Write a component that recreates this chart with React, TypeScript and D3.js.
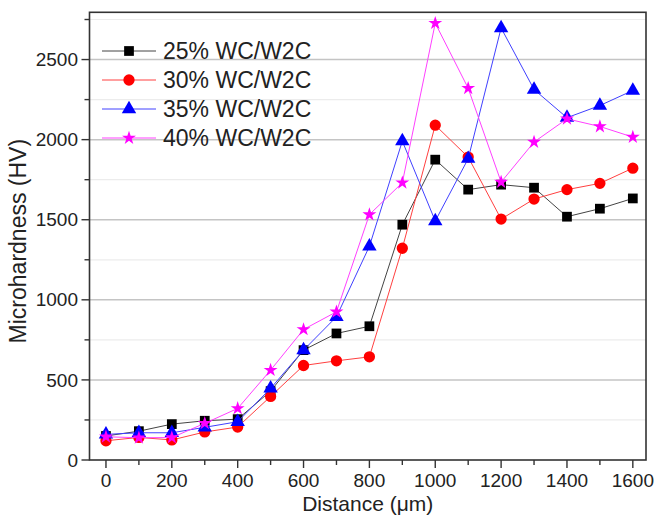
import * as d3 from 'd3'

const distances = [0, 100, 200, 300, 400, 500, 600, 700, 800, 900, 1000, 1100, 1200, 1300, 1400, 1500, 1600]
const wc25 = [150, 180, 224, 245, 255, 430, 686, 790, 835, 1469, 1875, 1688, 1719, 1700, 1519, 1569, 1633]
const wc30 = [120, 141, 125, 175, 206, 397, 590, 619, 644, 1322, 2090, 1891, 1504, 1629, 1688, 1727, 1822]
const wc35 = [160, 170, 170, 204, 239, 447, 686, 894, 1334, 1991, 1492, 1881, 2697, 2313, 2137, 2213, 2307]
const wc40 = [145, 139, 140, 229, 322, 561, 815, 925, 1532, 1731, 2727, 2321, 1735, 1985, 2130, 2082, 2016]
const seriesNames = ['25% WC/W2C', '30% WC/W2C', '35% WC/W2C', '40% WC/W2C']
const xTicks = [0, 200, 400, 600, 800, 1000, 1200, 1400, 1600]
const yTicks = [0, 500, 1000, 1500, 2000, 2500]

const W = 654
const H = 516
const left = 89.5
const right = 646
const top = 12.3
const bottom = 460

const series = [
  { name: seriesNames[0], values: wc25, color: '#000000', line: '#444444', symbol: d3.symbolSquare, size: 95 },
  { name: seriesNames[1], values: wc30, color: '#ff0000', line: '#ff4040', symbol: d3.symbolCircle, size: 100 },
  { name: seriesNames[2], values: wc35, color: '#0000ff', line: '#4040ff', symbol: d3.symbolTriangle, size: 90 },
  { name: seriesNames[3], values: wc40, color: '#ff00ff', line: '#ff40ff', symbol: d3.symbolStar, size: 60 },
]

export default function App() {
  const x = d3.scaleLinear().domain([-50, 1640]).range([left, right])
  const y = d3.scaleLinear().domain([0, 2795]).range([bottom, top])
  const line = d3.line<number>().x((_, i) => x(distances[i])).y(v => y(v))

  const xMinor = d3.range(100, 1700, 200)
  const yMinor = d3.range(250, 2800, 500)
  const font = '"Liberation Sans", Arial, sans-serif'

  return (
    <svg width={W} height={H} style={{ position: 'absolute', left: 0, top: 0, background: '#fff' }} fontFamily={font}>
      {/* grid */}
      {yMinor.map(t => (
        <line key={'gm' + t} x1={left} x2={right} y1={y(t)} y2={y(t)} stroke="#ececec" strokeWidth={1.2} />
      ))}
      {yTicks.slice(1).map(t => (
        <line key={'g' + t} x1={left} x2={right} y1={y(t)} y2={y(t)} stroke="#c4c4c4" strokeWidth={1.5} />
      ))}

      {/* series */}
      {series.map(s => (
        <g key={s.name}>
          <path d={line(s.values) ?? ''} fill="none" stroke={s.line} strokeWidth={1} />
          {s.values.map((v, i) => (
            <path key={i} transform={`translate(${x(distances[i])},${y(v)})`}
              d={d3.symbol(s.symbol, s.size)() ?? ''} fill={s.color} />
          ))}
        </g>
      ))}

      {/* frame */}
      <rect x={left} y={top} width={right - left} height={bottom - top} fill="none" stroke="#333" strokeWidth={1.6} />

      {/* x axis */}
      {xTicks.map(t => (
        <g key={'x' + t}>
          <line x1={x(t)} x2={x(t)} y1={bottom} y2={bottom + 8} stroke="#333" strokeWidth={1.4} />
          <text x={x(t)} y={487} textAnchor="middle" fontSize={19} fill="#222">{t}</text>
        </g>
      ))}
      {xMinor.map(t => (
        <line key={'xm' + t} x1={x(t)} x2={x(t)} y1={bottom} y2={bottom + 5} stroke="#333" strokeWidth={1.4} />
      ))}
      <text x={(left + right) / 2} y={511} textAnchor="middle" fontSize={21} fill="#222">Distance (μm)</text>

      {/* y axis */}
      {yTicks.map(t => (
        <g key={'y' + t}>
          <line x1={left - 8} x2={left} y1={y(t)} y2={y(t)} stroke="#333" strokeWidth={1.4} />
          <text x={78} y={y(t)} dy="0.35em" textAnchor="end" fontSize={19} fill="#222">{t}</text>
        </g>
      ))}
      {yMinor.map(t => (
        <line key={'ym' + t} x1={left - 5} x2={left} y1={y(t)} y2={y(t)} stroke="#333" strokeWidth={1.4} />
      ))}
      <text transform={`translate(26,${(top + bottom) / 2 + 5}) rotate(-90)`} textAnchor="middle" fontSize={23} fill="#222">
        Microhardness (HV)
      </text>

      {/* legend */}
      {series.map((s, i) => {
        const ly = 51 + i * 29
        return (
          <g key={'l' + s.name}>
            <line x1={102} x2={156} y1={ly} y2={ly} stroke={s.line} strokeWidth={1} />
            <path transform={`translate(129,${ly})`} d={d3.symbol(s.symbol, s.size)() ?? ''} fill={s.color} />
            <text x={163} y={ly} dy="0.36em" fontSize={23} fill="#222">{s.name}</text>
          </g>
        )
      })}
    </svg>
  )
}
